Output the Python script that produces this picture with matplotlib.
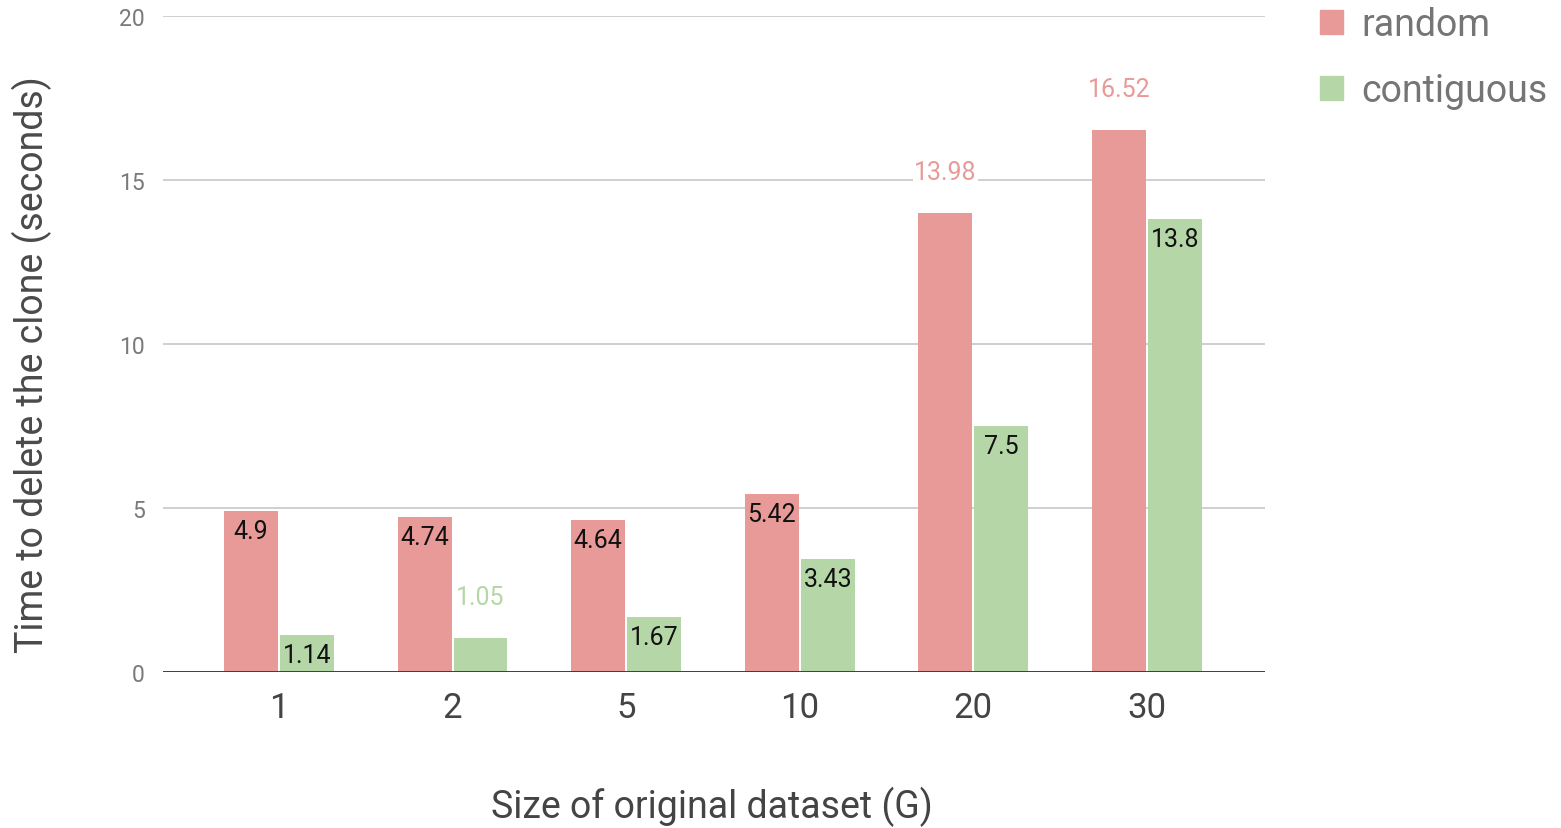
import matplotlib
matplotlib.use("Agg")
import matplotlib.pyplot as plt
import numpy as np
from matplotlib.patches import Patch

plt.rcParams['font.family'] = ['Roboto', 'DejaVu Sans']

categories = ["1", "2", "5", "10", "20", "30"]
random_vals = [4.9, 4.74, 4.64, 5.42, 13.98, 16.52]
contig_vals = [1.14, 1.05, 1.67, 3.43, 7.5, 13.8]
# label placement: True = inside bar (black), False = above bar (series colour)
random_inside = [True, True, True, True, False, False]
contig_inside = [True, False, True, True, True, True]
yticks = [0, 5, 10, 15, 20]

RED = "#e89a98"
GREEN = "#b5d7a7"

fig = plt.figure(figsize=(15.61, 8.29), dpi=100)
ax = fig.add_axes([0.1044, 0.1882, 0.7060, 0.7913])

x = np.arange(len(categories))
w = 0.311
off = 0.161
b1 = ax.bar(x - off, random_vals, width=w, color=RED, zorder=3)
b2 = ax.bar(x + off, contig_vals, width=w, color=GREEN, zorder=3)

def label(bars, vals, inside, color):
    for rect, v, ins in zip(bars, vals, inside):
        cx = rect.get_x() + rect.get_width() / 2
        txt = f"{v:g}"
        if ins:
            ax.annotate(txt, (cx, v), xytext=(0, -20), textcoords="offset pixels",
                        ha="center", va="center", fontsize=18, color="#111111", zorder=5)
        else:
            ax.annotate(txt, (cx, v), xytext=(0, 41), textcoords="offset pixels",
                        ha="center", va="center", fontsize=18, color=color, zorder=5,
                        bbox=dict(boxstyle="square,pad=0.05", fc="white", ec="none"))

label(b1, random_vals, random_inside, RED)
label(b2, contig_vals, contig_inside, GREEN)

ax.set_xlim(-0.668, 5.68)
ax.set_ylim(0, 20)
ax.set_yticks(yticks)
ax.set_xticks(x)
ax.set_xticklabels(categories)
ax.tick_params(axis='y', length=0, pad=13, labelsize=16.5, labelcolor="#7a7a7a")
ax.tick_params(axis='x', length=0, pad=14, labelsize=25, labelcolor="#444444")
ax.grid(axis='y', color="#cccccc", linewidth=1.3, zorder=0)
for s in ax.spines.values():
    s.set_visible(False)
ax.axhline(0, color="#333333", linewidth=2, zorder=4)

fig.text(712 / 1561, 1 - 807 / 829, "Size of original dataset (G)", fontsize=27,
         color="#444444", ha="center", va="center")
fig.text(32 / 1561, 1 - 365 / 829, "Time to delete the clone (seconds)", fontsize=27,
         color="#4a4a4a", ha="center", va="center", rotation=90)

handles = [Patch(color=RED), Patch(color=GREEN)]
fig.legend(handles, ["random", "contiguous"], loc="upper left",
           bbox_to_anchor=(1320 / 1561, 1 - 7 / 829), frameon=False, fontsize=27,
           labelcolor="#757575", handlelength=0.61, handleheight=0.61,
           handletextpad=0.5, labelspacing=0.78, borderpad=0, borderaxespad=0)

fig.savefig("out.png", dpi=100)
